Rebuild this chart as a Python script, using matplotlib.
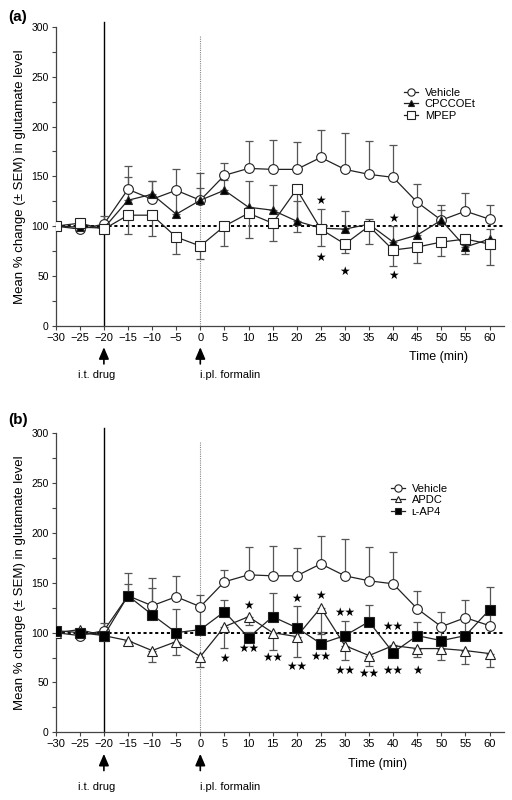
import matplotlib
matplotlib.use("Agg")
import matplotlib.pyplot as plt
import numpy as np
from matplotlib.transforms import blended_transform_factory

plt.rcParams['font.family'] = ['Liberation Sans', 'DejaVu Sans']
plt.rcParams['axes.unicode_minus'] = True

# ---------------- data ----------------
time = [-30, -25, -20, -15, -10, -5, 0, 5, 10, 15, 20, 25, 30, 35, 40, 45, 50, 55, 60]

vehicle = [100, 97, 102, 137, 127, 136, 126, 151, 158, 157, 157, 169, 157, 152, 149, 124, 106, 115, 107]
vehicle_up = [2, 3, 8, 23, 18, 21, 12, 12, 28, 30, 28, 28, 37, 34, 32, 18, 15, 18, 14]
vehicle_lo = [0] * 19

cpccoet = [100, 99, 98, 126, 132, 112, 126, 136, 119, 116, 105, 98, 97, 102, 84, 91, 106, 79, 87]
cpccoet_up = [0, 0, 0, 23, 13, 24, 27, 10, 26, 25, 20, 19, 18, 5, 16, 33, 10, 0, 10]
cpccoet_lo = [0, 0, 0, 0, 0, 0, 0, 0, 0, 0, 0, 0, 0, 0, 0, 0, 0, 7, 0]

mpep = [100, 103, 97, 111, 111, 89, 80, 100, 113, 103, 137, 97, 82, 100, 76, 79, 84, 87, 82]
mpep_up = [0] * 19
mpep_lo = [0, 0, 3, 19, 21, 17, 13, 20, 25, 18, 43, 17, 9, 18, 16, 16, 14, 6, 21]

apdc = [100, 103, 97, 92, 82, 91, 76, 106, 116, 100, 96, 125, 87, 77, 87, 84, 84, 82, 79]
apdc_up = [0] * 19
apdc_lo = [0, 0, 0, 3, 11, 13, 10, 21, 8, 17, 20, 26, 14, 10, 5, 8, 11, 13, 13]

lap4 = [102, 100, 97, 137, 118, 100, 103, 121, 95, 116, 105, 89, 97, 111, 80, 97, 92, 97, 123]
lap4_up = [0, 0, 0, 12, 37, 24, 26, 12, 6, 24, 22, 12, 15, 17, 8, 14, 14, 15, 23]
lap4_lo = [0] * 19

stars_a_x = [25, 25, 30, 40, 40]
stars_a_y = [126, 69, 54, 108, 50]
stars_a_t = ["★", "★", "★", "★", "★"]

stars_b_x = [5, 10, 10, 15, 20, 20, 25, 25, 30, 30, 35, 40, 40, 45]
stars_b_y = [74, 127, 84, 75, 134, 66, 137, 76, 120, 62, 59, 106, 62, 62]
stars_b_t = ["★", "★", "★★", "★★", "★", "★★", "★", "★★", "★★", "★★", "★★", "★★", "★★", "★"]

xticks = list(range(-30, 61, 5))
yticks = [0, 50, 100, 150, 200, 250, 300]

# ---------------- figure ----------------
W, H = 512, 800
fig = plt.figure(figsize=(W / 100, H / 100), dpi=100)

def ax_rect(left_px, top_px, bottom_px, right_px):
    return [left_px / W, 1 - bottom_px / H, (right_px - left_px) / W, (bottom_px - top_px) / H]

LINE = '#222222'
ERR = '#555555'

def errbars(ax, x, y, lo, hi):
    x = np.asarray(x, float); y = np.asarray(y, float)
    lo = np.asarray(lo, float); hi = np.asarray(hi, float)
    m = hi > 0
    if m.any():
        ax.errorbar(x[m], y[m], yerr=[np.zeros(m.sum()), hi[m]], fmt='none',
                    ecolor=ERR, elinewidth=0.9, capsize=2.8, capthick=0.9, zorder=2)
    m = lo > 0
    if m.any():
        ax.errorbar(x[m], y[m], yerr=[lo[m], np.zeros(m.sum())], fmt='none',
                    ecolor=ERR, elinewidth=0.9, capsize=2.8, capthick=0.9, zorder=2)

def series(ax, y, lo, hi, marker, face, label, ms, z):
    errbars(ax, time, y, lo, hi)
    ax.plot(time, y, color=LINE, lw=0.9, marker=marker, ms=ms, mfc=face,
            mec='#222222', mew=0.8, label=label, zorder=z)

def setup(ax, panel, panel_y_px, lab_off, time_x):
    ax.set_xlim(-30, 63)
    ax.set_ylim(0, 300)
    for s in ['top', 'right']:
        ax.spines[s].set_visible(False)
    for s in ['left', 'bottom']:
        ax.spines[s].set_color('#444444')
        ax.spines[s].set_linewidth(0.9)
    ax.set_xticks(xticks)
    ax.set_xticklabels([str(t).replace('-', '\u2212') for t in xticks], fontsize=8)
    ax.set_yticks(yticks)
    ax.set_yticklabels([str(t) for t in yticks], fontsize=7.5)
    ax.set_yticks([25, 75, 125, 175, 225, 275], minor=True)
    ax.tick_params(axis='both', which='both', direction='out', length=3, width=0.8,
                   color='#444444', pad=2)
    ax.set_ylabel('Mean % change (± SEM) in glutamate level', fontsize=9.5, labelpad=4)
    ax.axhline(100, color='black', lw=1.4, ls=(0, (1.6, 1.4)), zorder=1, xmax=1.0)
    ax.plot([-20, -20], [0, 305], color='black', lw=1.0, clip_on=False, zorder=1)
    ax.plot([0, 0], [0, 292], color='#888888', lw=0.8, ls=(0, (1, 1)), clip_on=False, zorder=1)
    tr = blended_transform_factory(ax.transData, ax.transAxes)
    for xv in [-20, 0]:
        ax.annotate('', xy=(xv, -0.072), xytext=(xv, -0.128), xycoords=tr, textcoords=tr,
                    arrowprops=dict(arrowstyle='-|>,head_length=0.7,head_width=0.3',
                                    color='black', lw=1.2, shrinkA=0, shrinkB=0),
                    annotation_clip=False)
    ax.text(-21.5, lab_off, 'i.t. drug', transform=tr, ha='center', va='center', fontsize=8)
    ax.text(0, lab_off, 'i.pl. formalin', transform=tr, ha='left', va='center', fontsize=8)
    ax.text(time_x, -0.105, 'Time (min)', transform=tr, ha='center', va='center', fontsize=9)
    fig.text(8 / W, 1 - panel_y_px / H, panel, fontsize=11, fontweight='bold',
             ha='left', va='center')

# ----- panel a -----
axa = fig.add_axes(ax_rect(55.7, 27.0, 325.7, 55.7 + 93 * 4.82))
setup(axa, '(a)', 17, -0.165, 49.5)
series(axa, vehicle, vehicle_lo, vehicle_up, 'o', 'white', 'Vehicle', 7, 3)
series(axa, cpccoet, cpccoet_lo, cpccoet_up, '^', 'black', 'CPCCOEt', 6, 4)
series(axa, mpep, mpep_lo, mpep_up, 's', 'white', 'MPEP', 7, 5)
for xs, ys, ts in zip(stars_a_x, stars_a_y, stars_a_t):
    axa.text(xs, ys, ts, ha='center', va='center', fontsize=8.5, family='DejaVu Sans')
axa.legend(loc='upper left', bbox_to_anchor=(398 / W, 1 - 82 / H), bbox_transform=fig.transFigure,
           frameon=False, fontsize=8, handlelength=1.3, handletextpad=0.6, labelspacing=0.15,
           markerscale=0.75, borderpad=0)

# ----- panel b -----
axb = fig.add_axes(ax_rect(55.7, 433.3, 732.3, 55.7 + 93 * 4.82))
setup(axb, '(b)', 420, -0.183, 36.7)
series(axb, vehicle, vehicle_lo, vehicle_up, 'o', 'white', 'Vehicle', 7, 3)
series(axb, apdc, apdc_lo, apdc_up, '^', 'white', 'APDC', 6.5, 4)
series(axb, lap4, lap4_lo, lap4_up, 's', 'black', 'L-AP4', 6.5, 5)
for xs, ys, ts in zip(stars_b_x, stars_b_y, stars_b_t):
    axb.text(xs, ys, ts, ha='center', va='center', fontsize=8.5, family='DejaVu Sans')
hb, lb = axb.get_legend_handles_labels()
lb = ['Vehicle', 'APDC', 'ʟ-AP4']
axb.legend(hb, lb, loc='upper left', bbox_to_anchor=(385 / W, 1 - 478 / H), bbox_transform=fig.transFigure,
           frameon=False, fontsize=8, handlelength=1.3, handletextpad=0.6, labelspacing=0.15,
           markerscale=0.75, borderpad=0)

fig.savefig('out.png', dpi=100, facecolor='white')
